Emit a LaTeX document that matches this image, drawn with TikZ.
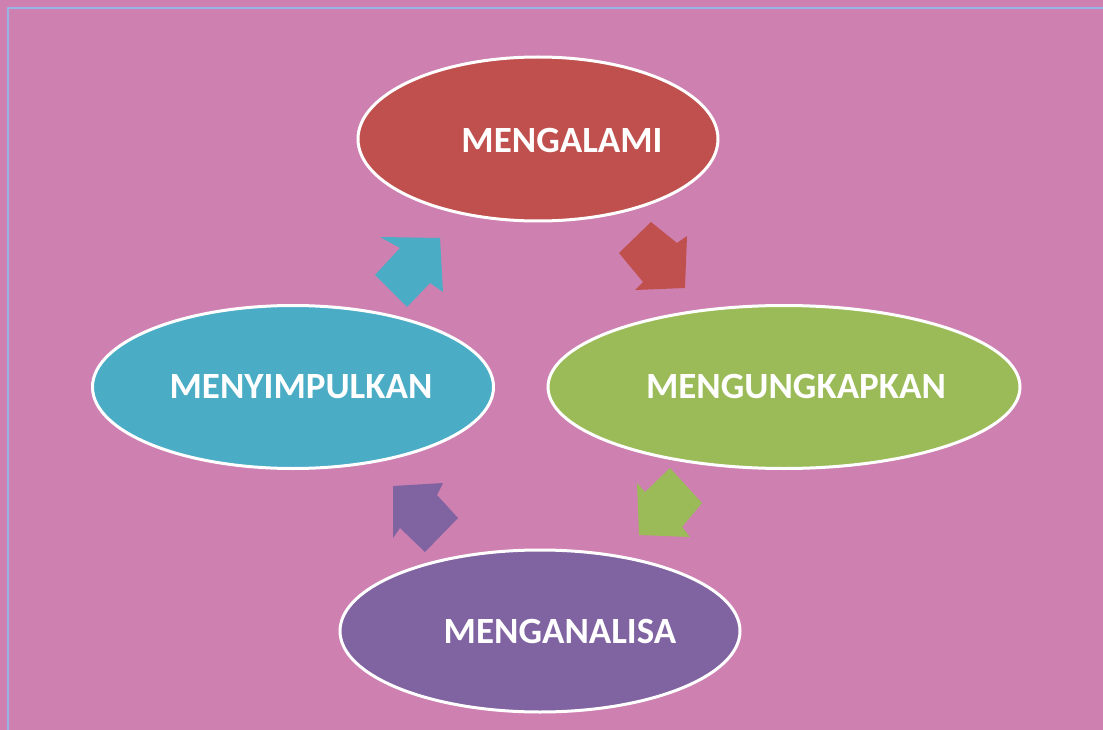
\documentclass[tikz,border=0pt]{standalone}
\usepackage{fontspec}
\setmainfont{Carlito}
\usetikzlibrary{shapes.geometric}
\definecolor{bgpink}{RGB}{206,128,176}
\definecolor{edgeblue}{RGB}{150,180,228}
\definecolor{cred}{RGB}{192,80,77}
\definecolor{cgreen}{RGB}{155,187,89}
\definecolor{ccyan}{RGB}{75,172,198}
\definecolor{cpurple}{RGB}{128,100,162}
\tikzset{
  stage/.style={ellipse, draw=white, line width=3pt, inner sep=0pt},
  lbl/.style={text=white, font=\bfseries\fontsize{37}{37}\selectfont, inner sep=0pt},
  blockarrow/.style={draw=none}
}
\begin{document}
\begin{tikzpicture}[x=1pt,y=-1pt]
\fill[bgpink] (0,0) rectangle (1103,730);
\useasboundingbox (0,0) rectangle (1103,730);
\draw[edgeblue, line width=1.5pt] (8,730) -- (8,8) -- (1103,8);
% stages
\node[stage, fill=cred, minimum width=360, minimum height=164] (e1) at (538,139) {};
\node[stage, fill=cgreen, minimum width=472, minimum height=163] (e2) at (784,387) {};
\node[stage, fill=cpurple, minimum width=400, minimum height=162] (e3) at (540,631) {};
\node[stage, fill=ccyan, minimum width=401, minimum height=163] (e4) at (293,387) {};
\node[lbl] (t1) at (562,140) {MENGALAMI};
\node[lbl] (t2) at (796,387) {MENGUNGKAPKAN};
\node[lbl] (t3) at (560,631) {MENGANALISA};
\node[lbl] (t4) at (301,387) {MENYIMPULKAN};
% block arrows
\fill[cred] (651,222) -- (677,243) -- (687,236) -- (685,288) -- (635,290) -- (643,282) -- (619,253) -- cycle;
\fill[cgreen] (670,468) -- (702,503) -- (682,527) -- (690,537) -- (639,535) -- (637,483) -- (645,492) -- cycle;
\fill[cpurple] (393,486) -- (443,483) -- (437,495) -- (458,518) -- (425,552) -- (400,528) -- (393,538) -- cycle;
\fill[ccyan] (380,237) -- (440,238) -- (443,292) -- (430,283) -- (407,307) -- (375,275) -- (400,248) -- cycle;
\end{tikzpicture}
\end{document}
